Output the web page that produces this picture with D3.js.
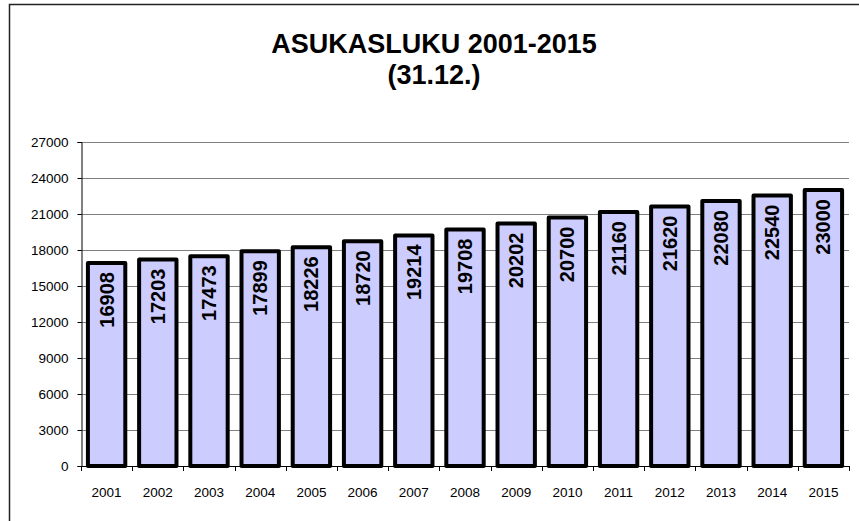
<!DOCTYPE html>
<html>
<head>
<meta charset="utf-8">
<title>Asukasluku 2001-2015</title>
<script src="https://cdn.jsdelivr.net/npm/d3@7"></script>
<style>
  body { margin: 0; background: #fff; }
  svg { display: block; font-family: Arial, "Liberation Sans", sans-serif; }
</style>
</head>
<body>
<div id="chart"></div>
<script>
// data
var years = ["2001", "2002", "2003", "2004", "2005", "2006", "2007", "2008",
             "2009", "2010", "2011", "2012", "2013", "2014", "2015"];
var population = [16908, 17203, 17473, 17899, 18226, 18720, 19214, 19708,
                  20202, 20700, 21160, 21620, 22080, 22540, 23000];
var yTicks = [0, 3000, 6000, 9000, 12000, 15000, 18000, 21000, 24000, 27000];
var titleLines = ["ASUKASLUKU 2001-2015", "(31.12.)"];

var width = 859, height = 521;
var margin = { left: 81, right: 10, top: 142, bottom: 55 };

var svg = d3.select("#chart").append("svg")
  .attr("width", width).attr("height", height);

// outer frame
svg.append("rect")
  .attr("x", 9.5).attr("y", 4.5)
  .attr("width", width + 20).attr("height", height + 20)
  .attr("fill", "none").attr("stroke", "#222").attr("stroke-width", 1.5);

// title
svg.append("g").selectAll("text")
  .data(titleLines)
  .enter().append("text")
  .attr("x", 434)
  .attr("y", function (d, i) { return 53 + i * 31; })
  .attr("text-anchor", "middle")
  .attr("font-size", 27)
  .attr("font-weight", "bold")
  .text(function (d) { return d; });

var x = d3.scaleBand().domain(years)
  .range([margin.left, width - margin.right])
  .paddingInner(0.27).paddingOuter(0.135);
var y = d3.scaleLinear().domain([0, 27000])
  .range([height - margin.bottom, margin.top]);

// gridlines
svg.append("g").selectAll("line")
  .data(yTicks.filter(function (d) { return d > 0; }))
  .enter().append("line")
  .attr("x1", margin.left).attr("x2", width - margin.right)
  .attr("y1", function (d) { return Math.round(y(d)) + 0.5; })
  .attr("y2", function (d) { return Math.round(y(d)) + 0.5; })
  .attr("stroke", "#808080").attr("stroke-width", 1);

// y axis
var yAxis = d3.axisLeft(y).tickValues(yTicks).tickSize(4).tickPadding(9)
  .tickFormat(d3.format("d"));
var gy = svg.append("g").attr("transform", "translate(" + (margin.left + 0.5) + ",0)").call(yAxis);
gy.select(".domain").attr("stroke", "#000");
gy.selectAll("text").attr("font-size", 13.5).attr("font-family", "Arial, 'Liberation Sans', sans-serif").attr("fill", "#000");

// x axis: ticks between categories
var step = x.step();
var boundaries = d3.range(years.length + 1).map(function (i) { return margin.left + i * step; });
var gx = svg.append("g");
gx.append("line")
  .attr("x1", margin.left).attr("x2", width - margin.right)
  .attr("y1", y(0) + 0.5).attr("y2", y(0) + 0.5)
  .attr("stroke", "#000");
gx.selectAll("line.tk")
  .data(boundaries)
  .enter().append("line")
  .attr("class", "tk")
  .attr("x1", function (d) { return Math.round(d) + 0.5; })
  .attr("x2", function (d) { return Math.round(d) + 0.5; })
  .attr("y1", y(0)).attr("y2", y(0) + 5)
  .attr("stroke", "#000");
gx.selectAll("text")
  .data(years)
  .enter().append("text")
  .attr("x", function (d) { return x(d) + x.bandwidth() / 2; })
  .attr("y", y(0) + 31)
  .attr("text-anchor", "middle")
  .attr("font-size", 13.5)
  .text(function (d) { return d; });

// bars
var bars = svg.append("g").selectAll("g")
  .data(years)
  .enter().append("g");

bars.append("rect")
  .attr("x", function (d) { return x(d); })
  .attr("y", function (d, i) { return y(population[i]); })
  .attr("width", x.bandwidth())
  .attr("height", function (d, i) { return y(0) - y(population[i]); })
  .attr("fill", "#ccccff")
  .attr("stroke", "#000")
  .attr("stroke-width", 4)
  .attr("stroke-linejoin", "round");

bars.append("text")
  .attr("transform", function (d, i) {
    return "translate(" + (x(d) + x.bandwidth() / 2 + 7) + "," + (y(population[i]) + 9) + ") rotate(-90)";
  })
  .attr("text-anchor", "end")
  .attr("font-size", 20)
  .attr("font-weight", "bold")
  .text(function (d, i) { return population[i]; });
</script>
</body>
</html>
